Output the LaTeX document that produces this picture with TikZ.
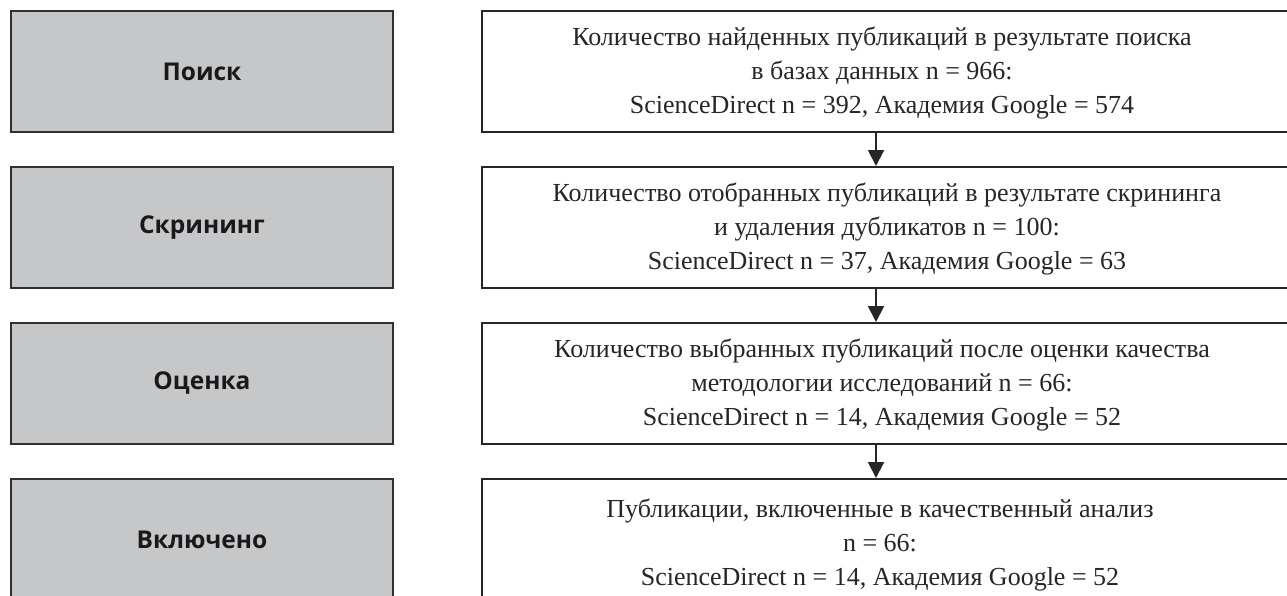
\documentclass[tikz,border=0pt]{standalone}
\usepackage{fontspec}
\setmainfont{Liberation Serif}
\newfontfamily\labelfont{Open Sans}
\usetikzlibrary{arrows.meta}
\definecolor{boxgray}{HTML}{C6C7C9}
\definecolor{edgegray}{HTML}{303030}
\tikzset{
  stagebox/.style={draw=edgegray, line width=2pt, fill=boxgray, minimum width=382pt, minimum height=121pt, inner sep=0pt,
    font=\labelfont\bfseries\fontsize{24.5}{28}\selectfont, text=black!90},
  infobox/.style={draw=black!85, line width=2pt, fill=white, minimum width=840pt, minimum height=121pt, inner sep=0pt, anchor=west},
  infotext/.style={align=center, inner sep=0pt, font=\fontsize{26}{34}\selectfont, text=black!85},
  flowarrow/.style={line width=2pt, draw=black!85, -{Triangle[width=16pt,length=16pt]}}
}
\begin{document}
\begin{tikzpicture}[x=1pt,y=-1pt]
\clip (0,0) rectangle (1287,595);
\fill[white] (0,0) rectangle (1287,595);
% left stage boxes
\node[stagebox] (s1) at (202,71.5) {\raisebox{-6pt}{Поиск}};
\node[stagebox] (s2) at (202,227.5) {\raisebox{-6pt}{Скрининг}};
\node[stagebox] (s3) at (202,383.5) {\raisebox{-6pt}{Оценка}};
\node[stagebox] (s4) at (202,539.5) {\raisebox{-6pt}{Включено}};
% right boxes
\node[infobox] (b1) at (481,71.5) {};
\node[infobox] (b2) at (481,227.5) {};
\node[infobox] (b3) at (481,383.5) {};
\node[infobox] (b4) at (481,539.5) {};
\node[infotext] (t1) at (882,73) {Количество найденных публикаций в результате поиска\\в базах данных n = 966:\\ScienceDirect n = 392, Академия Google = 574};
\node[infotext] (t2) at (887,229) {Количество отобранных публикаций в результате скрининга\\и удаления дубликатов n = 100:\\ScienceDirect n = 37, Академия Google = 63};
\node[infotext] (t3) at (882,385) {Количество выбранных публикаций после оценки качества\\методологии исследований n = 66:\\ScienceDirect n = 14, Академия Google = 52};
\node[infotext] (t4) at (880,545) {Публикации, включенные в качественный анализ\\n = 66:\\ScienceDirect n = 14, Академия Google = 52};
% arrows
\coordinate (a1) at (876,132);
\coordinate (a2) at (876,288);
\coordinate (a3) at (876,444);
\draw[flowarrow] (a1) -- (a1 |- b2.north);
\draw[flowarrow] (a2) -- (a2 |- b3.north);
\draw[flowarrow] (a3) -- (a3 |- b4.north);
\end{tikzpicture}
\end{document}
